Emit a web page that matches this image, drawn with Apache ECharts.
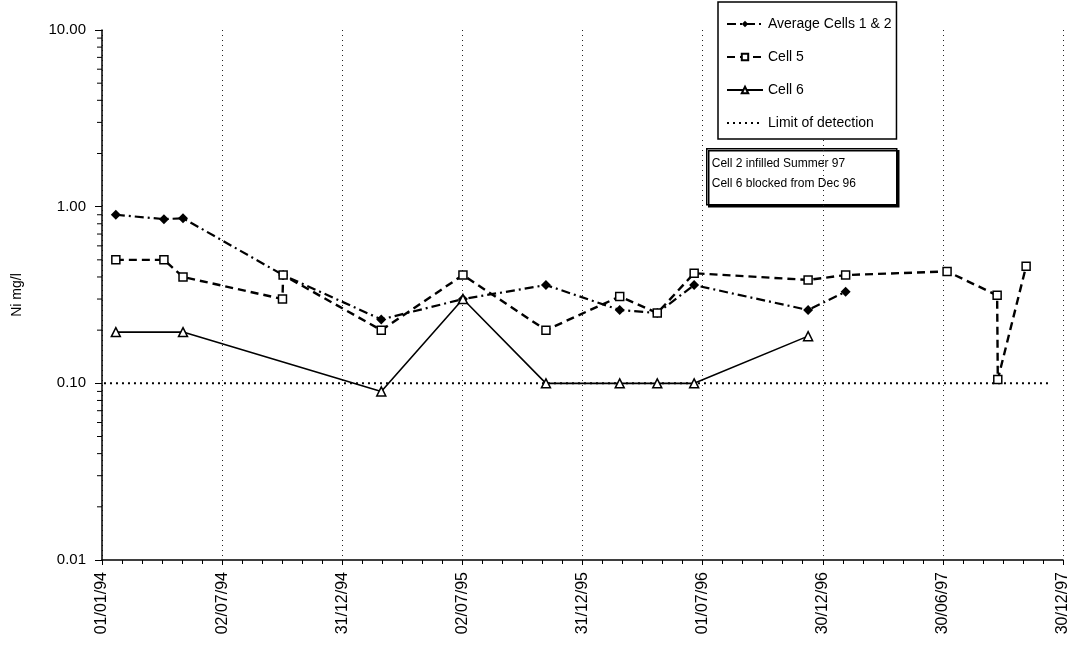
<!DOCTYPE html>
<html>
<head>
<meta charset="utf-8">
<title>Ni mg/l</title>
<script src="https://cdn.jsdelivr.net/npm/echarts@6/dist/echarts.min.js"></script>
<style>
  html, body { margin: 0; padding: 0; background: #fff; }
  #chart { width: 1075px; height: 652px; }
</style>
</head>
<body>
<div id="chart"></div>
<script>
// sample dates (dd/mm/yy on the axis, stored as ISO here)
const avgDates = ['1994-01-22', '1994-04-05', '1994-05-04', '1994-10-03', '1995-03-01', '1995-07-03',
  '1995-11-06', '1996-02-26', '1996-04-23', '1996-06-18', '1996-12-08', '1997-02-03']
const avgValues = [0.90, 0.85, 0.86, 0.41, 0.23, 0.30, 0.36, 0.26, 0.25, 0.36, 0.26, 0.33]

const cell5Dates = ['1994-01-22', '1994-04-05', '1994-05-04', '1994-10-02', '1994-10-03', '1995-03-01',
  '1995-07-03', '1995-11-06', '1996-02-26', '1996-04-23', '1996-06-18', '1996-12-08', '1997-02-03',
  '1997-07-07', '1997-09-21', '1997-09-22', '1997-11-04']
const cell5Values = [0.50, 0.50, 0.40, 0.30, 0.41, 0.20, 0.41, 0.20, 0.31, 0.25, 0.42, 0.385, 0.41,
  0.43, 0.315, 0.105, 0.46]

const cell6Dates = ['1994-01-22', '1994-05-04', '1995-03-01', '1995-07-03', '1995-11-06', '1996-02-26',
  '1996-04-23', '1996-06-18', '1996-12-08']
const cell6Values = [0.195, 0.195, 0.09, 0.30, 0.10, 0.10, 0.10, 0.10, 0.185]

const lodDates = ['1994-01-04', '1997-12-09']
const lodValues = [0.1, 0.1]

const tickLabels = ['01/01/94', '02/07/94', '31/12/94', '02/07/95', '31/12/95',
  '01/07/96', '30/12/96', '30/06/97', '30/12/97']
const yMinorTicks = [0.02, 0.03, 0.04, 0.05, 0.06, 0.07, 0.08, 0.09,
  0.2, 0.3, 0.4, 0.5, 0.6, 0.7, 0.8, 0.9,
  2, 3, 4, 5, 6, 7, 8, 9]

const noteLines = ['Cell 2 infilled Summer 97', 'Cell 6 blocked from Dec 96']

const DAY = 86400000
const origin = Date.UTC(1994, 0, 1)
const xInterval = 182.375 // 8 steps from 01/01/94 to 30/12/97
const xMax = xInterval * 8

function toDay(s) {
  const p = s.split('-').map(Number)
  return (Date.UTC(p[0], p[1] - 1, p[2]) - origin) / DAY
}
function pairs(dates, values) {
  return dates.map((d, i) => [toDay(d), values[i]])
}

const font = 'Liberation Sans, Arial, sans-serif'
const chart = echarts.init(document.getElementById('chart'))

chart.setOption({
  animation: false,
  textStyle: { fontFamily: font, color: '#000' },
  grid: { left: 102, right: 12, top: 30, bottom: 92 },
  legend: {
    orient: 'vertical',
    left: 718,
    top: 2,
    padding: [15, 5, 9, 8],
    itemGap: 19,
    itemWidth: 36,
    itemHeight: 8,
    borderColor: '#000',
    borderWidth: 1.5,
    backgroundColor: '#fff',
    textStyle: { fontSize: 14, color: '#000', fontFamily: font },
    data: ['Average Cells 1 & 2', 'Cell 5', 'Cell 6', 'Limit of detection']
  },
  xAxis: {
    type: 'value',
    min: 0,
    max: xMax,
    interval: xInterval,
    axisLine: { lineStyle: { color: '#000', width: 1.5 } },
    axisTick: { length: 5, lineStyle: { color: '#000' } },
    minorTick: { show: true, splitNumber: 6, length: 4, lineStyle: { color: '#000' } },
    axisLabel: {
      rotate: 90,
      margin: 12,
      fontSize: 16,
      color: '#000',
      formatter: v => tickLabels[Math.round(v / xInterval)] || ''
    },
    splitLine: { show: true, lineStyle: { type: [1, 4], color: '#222', width: 1 } }
  },
  yAxis: {
    type: 'log',
    logBase: 10,
    min: 0.01,
    max: 10,
    name: 'Ni mg/l',
    nameLocation: 'middle',
    nameGap: 78,
    nameTextStyle: { fontSize: 14, color: '#000' },
    axisLine: { show: true, lineStyle: { color: '#000', width: 1.5 } },
    axisTick: { show: true, length: 7, lineStyle: { color: '#000' } },
    axisLabel: { fontSize: 15, color: '#000', margin: 16, formatter: v => v.toFixed(2) },
    splitLine: { show: false }
  },
  graphic: [{
    type: 'group',
    left: 706,
    top: 148,
    children: [{
      type: 'rect',
      shape: { x: 0, y: 0, width: 190, height: 56 },
      style: { fill: '#fff', stroke: '#000', lineWidth: 1.5, shadowColor: '#000', shadowOffsetX: 2, shadowOffsetY: 2 }
    }, {
      type: 'text',
      left: 5,
      top: 5,
      style: { text: noteLines.join('\n'), font: '12px ' + font, fill: '#000', lineHeight: 20 }
    }]
  }],
  series: [{
    name: 'Average Cells 1 & 2',
    type: 'line',
    data: pairs(avgDates, avgValues),
    symbol: 'diamond',
    symbolSize: 10,
    itemStyle: { color: '#000' },
    lineStyle: { color: '#000', width: 2.2, type: [9, 4, 2, 4] },
    z: 3
  }, {
    name: 'Cell 5',
    type: 'line',
    data: pairs(cell5Dates, cell5Values),
    symbol: 'rect',
    symbolSize: 8,
    itemStyle: { color: '#fff', borderColor: '#000', borderWidth: 1.5 },
    lineStyle: { color: '#000', width: 2.4, type: [8, 5] },
    z: 4
  }, {
    name: 'Cell 6',
    type: 'line',
    data: pairs(cell6Dates, cell6Values),
    symbol: 'triangle',
    symbolSize: 9,
    itemStyle: { color: '#fff', borderColor: '#000', borderWidth: 1.5 },
    lineStyle: { color: '#000', width: 1.6 },
    z: 5
  }, {
    name: 'Limit of detection',
    type: 'line',
    data: pairs(lodDates, lodValues),
    symbol: 'none',
    itemStyle: { color: 'rgba(0,0,0,0)' },
    lineStyle: { color: '#000', width: 2, type: [2, 4] },
    z: 2
  }, {
    // log minor ticks on the y axis
    type: 'custom',
    silent: true,
    clip: false,
    data: yMinorTicks,
    renderItem: (params, api) => {
      const p = api.coord([0, api.value(0)])
      return {
        type: 'line',
        shape: { x1: p[0] - 5, y1: p[1], x2: p[0], y2: p[1] },
        style: { stroke: '#000', lineWidth: 1 }
      }
    },
    encode: { y: 0 }
  }]
})
</script>
</body>
</html>
